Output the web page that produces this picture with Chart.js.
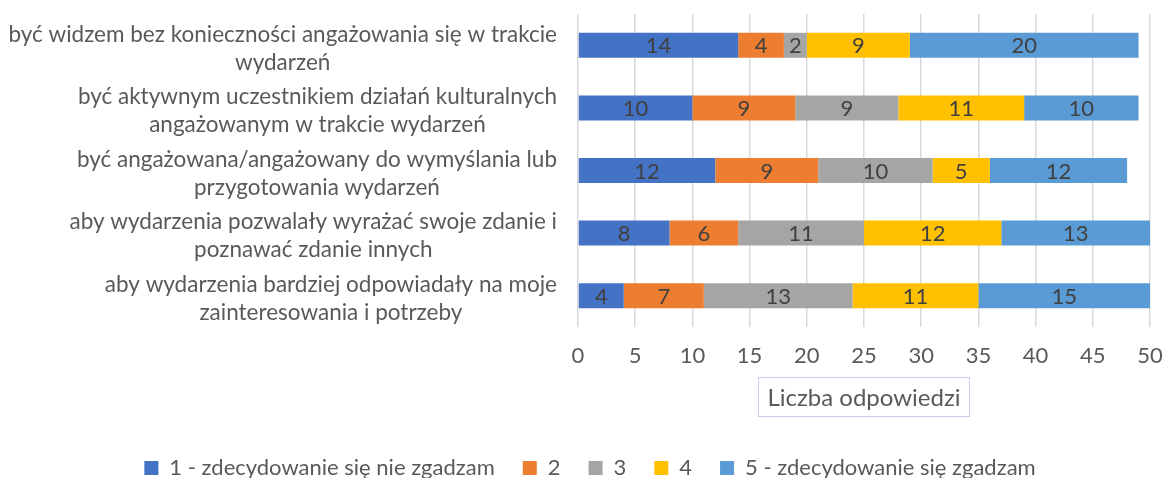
<!DOCTYPE html>
<html lang="pl">
<head>
<meta charset="UTF-8">
<title>Liczba odpowiedzi</title>
<script src="https://cdn.jsdelivr.net/npm/chart.js"></script>
<style>
  html, body { margin: 0; padding: 0; background: #fff; }
  #wrap { width: 1165px; height: 478px; }
</style>
</head>
<body>
<div id="wrap"><canvas id="wykres"></canvas></div>
<script>
// dane
const kategorie = [
  ['być widzem bez konieczności angażowania się w trakcie', 'wydarzeń'],
  ['być aktywnym uczestnikiem działań kulturalnych', 'angażowanym w trakcie wydarzeń'],
  ['być angażowana/angażowany do wymyślania lub', 'przygotowania wydarzeń'],
  ['aby wydarzenia pozwalały wyrażać swoje zdanie i', 'poznawać zdanie innych'],
  ['aby wydarzenia bardziej odpowiadały na moje', 'zainteresowania i potrzeby']
];
const serie = ['1 - zdecydowanie się nie zgadzam', '2', '3', '4', '5 - zdecydowanie się zgadzam'];
const odp1 = [14, 10, 12, 8, 4];
const odp2 = [4, 9, 9, 6, 7];
const odp3 = [2, 9, 10, 11, 13];
const odp4 = [9, 11, 5, 12, 11];
const odp5 = [20, 10, 12, 13, 15];
const osMin = 0, osMax = 50, osKrok = 5;
const tytulOsi = 'Liczba odpowiedzi';

const kolory = ['#4472C4', '#ED7D31', '#A5A5A5', '#FFC000', '#5B9BD5'];
const czcionka = 'Lato, "Open Sans", sans-serif';
const szary = '#595959';

// etykiety kategorii: blok wyrównany do prawej, linie wyśrodkowane
const etykietyKategorii = {
  id: 'etykietyKategorii',
  afterDraw(chart) {
    const ctx = chart.ctx;
    const y = chart.scales.y;
    const prawa = 557, lh = 28;
    ctx.save();
    ctx.font = '22.5px ' + czcionka;
    ctx.fillStyle = szary;
    ctx.textAlign = 'center';
    ctx.textBaseline = 'middle';
    kategorie.forEach((linie, i) => {
      const szer = Math.max(...linie.map(l => ctx.measureText(l).width));
      const cx = prawa - szer / 2;
      const cy = y.getPixelForValue(i) + 3;
      linie.forEach((l, j) => {
        ctx.fillText(l, cx, cy + (j - (linie.length - 1) / 2) * lh);
      });
    });
    ctx.restore();
  }
};

// wartości na słupkach
const wartosci = {
  id: 'wartosci',
  afterDatasetsDraw(chart) {
    const ctx = chart.ctx;
    ctx.save();
    ctx.font = '22px ' + czcionka;
    ctx.fillStyle = '#404040';
    ctx.textAlign = 'center';
    ctx.textBaseline = 'middle';
    chart.data.datasets.forEach((ds, d) => {
      chart.getDatasetMeta(d).data.forEach((el, i) => {
        const p = el.getCenterPoint();
        ctx.fillText(ds.data[i], p.x, p.y + 1);
      });
    });
    ctx.restore();
  }
};

// tytuł osi w ramce
const tytulWRamce = {
  id: 'tytulWRamce',
  afterDraw(chart) {
    const ctx = chart.ctx;
    const a = chart.chartArea;
    const cx = (a.left + a.right) / 2;
    const cy = 397;
    ctx.save();
    ctx.font = '24px ' + czcionka;
    const w = ctx.measureText(tytulOsi).width + 18;
    ctx.fillStyle = '#fff';
    ctx.fillRect(cx - w / 2, cy - 20, w, 40);
    ctx.strokeStyle = '#C5D0E6';
    ctx.lineWidth = 1;
    ctx.strokeRect(Math.round(cx - w / 2) + 0.5, cy - 19.5, Math.round(w), 39);
    ctx.fillStyle = szary;
    ctx.textAlign = 'center';
    ctx.textBaseline = 'middle';
    ctx.fillText(tytulOsi, cx, cy + 1);
    ctx.restore();
  }
};

// legenda przy dolnej krawędzi: stała wysokość
const legendaNizej = {
  id: 'legendaNizej',
  beforeInit(chart) {
    const fit = chart.legend.fit;
    chart.legend.fit = function () {
      fit.bind(chart.legend)();
      this.height = 49;
    };
  }
};

const zbiory = [odp1, odp2, odp3, odp4, odp5].map((dane, i) => ({
  label: serie[i],
  data: dane,
  backgroundColor: kolory[i],
  borderWidth: 0,
  categoryPercentage: 0.8,
  barPercentage: 0.5
}));

new Chart(document.getElementById('wykres'), {
  type: 'bar',
  data: { labels: kategorie, datasets: zbiory },
  options: {
    indexAxis: 'y',
    responsive: true,
    maintainAspectRatio: false,
    animation: false,
    layout: { padding: { left: 30, right: 15, top: 14, bottom: 0 } },
    scales: {
      x: {
        stacked: true,
        min: osMin,
        max: osMax,
        ticks: { stepSize: osKrok, color: szary, font: { family: czcionka, size: 22 }, padding: 16 },
        grid: { color: '#D9D9D9', lineWidth: 1.5, drawTicks: false },
        border: { display: false },
        afterFit(scale) {
          scale.height = 102;
          scale.paddingRight = 0;
          scale.paddingLeft = 0;
        }
      },
      y: {
        stacked: true,
        ticks: { display: false },
        grid: { display: false },
        border: { display: false },
        afterFit(scale) { scale.width = 548; }
      }
    },
    plugins: {
      legend: {
        position: 'bottom',
        labels: {
          boxWidth: 14,
          boxHeight: 14,
          padding: 28,
          color: szary,
          font: { family: czcionka, size: 22 }
        }
      },
      tooltip: { enabled: false }
    }
  },
  plugins: [etykietyKategorii, wartosci, tytulWRamce, legendaNizej]
});
</script>
</body>
</html>
